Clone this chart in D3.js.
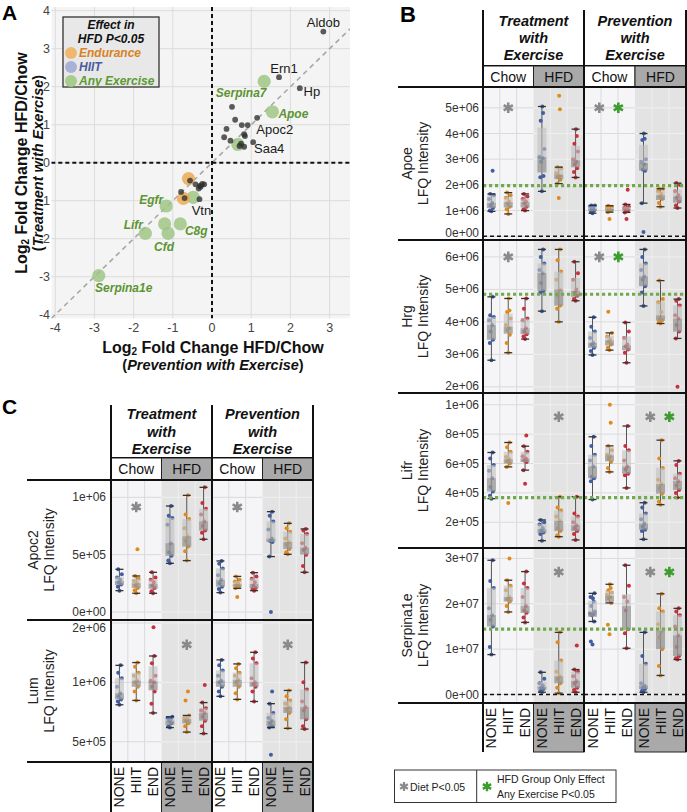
<!DOCTYPE html>
<html><head><meta charset="utf-8">
<script src="https://cdn.jsdelivr.net/npm/d3@7"></script>
<style>
body{margin:0;background:#fff}
svg{display:block;font-family:"Liberation Sans",Arial,Helvetica,sans-serif}
</style>
</head><body>
<svg id="fig" width="687" height="812"></svg>
<script>
// ================= DATA =================
const exerciseGroups = ["NONE", "HIIT", "END"];
const dietGroups = ["Chow", "HFD"];
const protocolTitles = [["Treatment", "with", "Exercise"], ["Prevention", "with", "Exercise"]];

// Panel A: log2 fold change HFD/Chow
const pointLabelA = ["Aldob","Ern1","Hp","","","","Apoc2","","","","","","","Saa4","","","",
  "","","","","","","","","","Vtn",
  "Serpina7","Apoe","","","Egfr","","C8g","Cfd","Lifr","Serpina1e",
  "",""];
const prevFC = [2.84,1.71,2.24,0.51,0.59,1.15,0.91,0.76,0.37,0.82,0.84,0.31,0.47,1.05,0.70,0.82,0.74,
  -0.56,-0.42,-0.31,-0.25,-0.20,-0.34,-0.29,-0.79,-0.70,-0.32,
  1.33,1.54,0.66,-0.48,-1.17,-1.21,-0.81,-1.12,-1.70,-2.89,
  -0.60,-0.73];
const treatFC = [3.45,2.25,1.96,1.47,1.13,1.18,0.99,0.99,0.89,0.75,0.70,0.67,0.58,0.54,0.44,0.42,0.50,
  -0.47,-0.57,-0.61,-0.56,-0.57,-0.68,-0.63,-0.77,-0.93,-0.96,
  2.14,1.34,0.48,-0.91,-1.14,-1.61,-1.61,-1.86,-1.86,-2.97,
  -0.42,-0.94];
const sigGroupA = ["none","none","none","none","none","none","none","none","none","none","none","none","none","none","none","none","none",
  "none","none","none","none","none","none","none","none","none","none",
  "any","any","any","any","any","any","any","any","any","any",
  "end","end"];
const legendA = ["Endurance", "HIIT", "Any Exercise"];
const axisTicksA = [-4, -3, -2, -1, 0, 1, 2, 3];
const axisTicksAy = [-4, -3, -2, -1, 0, 1, 2, 3, 4];

// Panel B / C: LFQ intensity per column (Chow NONE, HIIT, END, HFD NONE, HIIT, END)
const apoeUnit = 1e6;
const apoeTreatment = [
  [0.97,1.0,1.1,1.2,1.3,1.45,1.6,1.65,2.55],
  [0.87,1.05,1.15,1.3,1.35,1.5,1.6,1.7],
  [1.0,1.05,1.15,1.3,1.35,1.45,1.55,1.65],
  [1.75,2.3,2.35,2.9,3.05,3.1,3.4,4.5,4.8,5.05],
  [1.49,2.05,2.2,2.3,2.35,2.45,2.65,2.69,4.94,5.47],
  [2.29,2.5,2.65,2.8,2.9,3.0,3.3,3.6,3.9,4.17]];
const apoePrevention = [
  [0.9,0.95,1.0,1.05,1.1,1.15,1.2,1.2],
  [0.67,0.94,1.0,1.05,1.1,1.12,1.15,1.19],
  [0.67,0.93,1.0,1.02,1.05,1.1,1.15,1.24,1.81],
  [0.17,1.29,2.55,2.6,2.8,2.9,3.0,3.75,3.8,4.0],
  [1.15,1.3,1.45,1.55,1.65,1.75,1.85,1.85],
  [1.1,1.2,1.35,1.5,1.6,1.75,2.0,2.07]];
const apoeTicks = [0, 1e6, 2e6, 3e6, 4e6, 5e6];
const apoeCutoff = 1.97e6;
const apoeStars = {treatment: ["diet"], prevention: ["diet", "exercise"], diet: "Chow", level: 5e6};

const hrgUnit = 1e6;
const hrgTreatment = [
  [2.82,3.35,3.45,3.7,3.9,4.05,4.15,4.2,4.77],
  [3.05,3.35,3.6,3.75,3.8,3.9,4.1,4.3,4.35,4.72],
  [3.47,3.55,3.62,3.7,3.8,4.05,4.1,4.4,4.72],
  [4.33,4.9,4.95,5.2,5.5,5.6,5.8,6.0,6.23],
  [4.0,4.4,4.5,4.8,5.0,5.3,5.55,5.9,6.23],
  [4.65,4.7,4.8,4.9,5.0,5.3,5.5,5.85]];
const hrgPrevention = [
  [2.98,3.1,3.2,3.3,3.35,3.5,3.7,3.85,4.14],
  [3.13,3.2,3.3,3.4,3.45,3.55,3.66,4.31],
  [2.74,3.05,3.15,3.25,3.3,3.5,3.7,3.98],
  [4.49,4.9,5.1,5.3,5.4,5.6,5.8,6.0,6.23],
  [3.95,4.0,4.05,4.1,4.3,4.6,4.7,5.27],
  [2.0,3.49,3.7,3.9,4.1,4.2,4.5,4.65,4.7]];
const hrgTicks = [2e6, 3e6, 4e6, 5e6, 6e6];
const hrgCutoff = 4.85e6;
const hrgStars = {treatment: ["diet"], prevention: ["diet", "exercise"], diet: "Chow", level: 6e6};

const lifrUnit = 1e5;
const lifrTreatment = [
  [3.61,3.8,4.1,4.4,5.0,5.5,5.9,6.35,6.75],
  [3.32,5.77,6.0,6.15,6.3,6.45,6.8,7.1,7.43],
  [4.63,5.55,6.1,6.2,6.35,6.5,6.8,7.18,7.9],
  [0.75,1.2,1.3,1.45,1.6,1.85,2.0,2.16],
  [1.02,1.1,1.4,1.6,2.1,2.4,2.8,3.0,3.74],
  [0.8,1.2,1.4,1.6,1.8,2.0,2.4,2.6,3.74]];
const lifrPrevention = [
  [3.55,4.8,5.0,5.1,5.8,6.2,6.6,7.2,7.82],
  [5.43,5.7,6.1,6.3,6.5,6.6,6.9,7.2,8.77,10.0],
  [4.34,5.2,5.3,5.6,5.8,6.2,6.9,7.2,8.55],
  [0.84,1.4,1.5,1.7,1.9,2.2,2.6,3.0,3.33],
  [3.2,3.4,3.95,4.3,4.6,4.9,5.7,6.35,7.59],
  [3.68,4.0,4.2,4.5,4.8,5.0,5.3,5.9,6.18]];
const lifrTicks = [2e5, 4e5, 6e5, 8e5, 1e6];
const lifrCutoff = 3.68e5;
const lifrStars = {treatment: ["diet"], prevention: ["diet", "exercise"], diet: "HFD", level: 9.18e5};

const serpina1eUnit = 1e6;
const serpina1eTreatment = [
  [8.8,10.5,15.0,16.5,17.5,19.0,23.5,25.0,29.6],
  [18.2,19.5,20.5,21.0,21.5,23.0,24.0,25.2,30.0],
  [15.9,17.0,18.0,18.5,19.5,21.5,23.5,24.5,27.1],
  [0.5,0.8,1.2,1.5,2.0,2.5,3.5,4.9],
  [0.3,1.5,2.5,3.5,4.0,5.0,7.5,11.5,13.7],
  [0.5,1.0,1.5,2.5,3.0,4.0,5.0,5.5,10.8]];
const serpina1ePrevention = [
  [11.0,11.7,16.1,17.5,17.7,17.9,18.3,19.5,20.5,21.2,21.5,22.3],
  [13.3,15.4,20.2,21.2,21.5,22.0,22.5,23.0,23.5,24.3],
  [10.2,13.5,14.4,18.5,20.5,21.5,24.0,28.5],
  [0.5,0.8,1.2,1.5,2.0,2.5,6.8,8.5,13.7],
  [4.2,6.3,10.0,12.5,14.0,15.5,18.3,19.0,22.2],
  [7.7,8.0,8.5,10.5,13.0,15.0,17.5,18.3,19.0]];
const serpina1eTicks = [0, 1e7, 2e7, 3e7];
const serpina1eCutoff = 14.4e6;
const serpina1eStars = {treatment: ["diet"], prevention: ["diet", "exercise"], diet: "HFD", level: 2.7e7};

const apoc2Unit = 1e5;
const apoc2Treatment = [
  [1.86,2.2,2.4,2.6,2.8,3.0,3.3,3.72],
  [1.63,1.9,2.1,2.3,2.5,2.7,2.9,3.14,5.47],
  [1.63,1.8,2.1,2.3,2.6,2.8,3.0,3.46],
  [4.24,4.5,4.9,5.2,6.0,7.6,8.2,8.4,9.24],
  [4.48,5.3,5.7,6.2,6.6,7.3,8.1,8.5,10.17],
  [6.34,6.9,7.1,7.5,7.9,8.5,9.0,9.5,10.87]];
const apoc2Prevention = [
  [1.69,2.0,2.2,2.5,2.8,3.2,3.8,4.2,4.45],
  [1.3,2.06,2.2,2.35,2.5,2.65,2.8,3.1],
  [1.86,2.0,2.1,2.3,2.6,2.9,3.1,3.43],
  [0.0,4.83,6.1,6.2,6.4,7.2,7.9,8.4,8.75],
  [5.03,5.2,5.5,5.9,6.1,6.4,7.0,7.3,7.73],
  [3.46,4.0,5.0,5.4,5.6,6.0,6.8,7.1,7.24]];
const apoc2Ticks = [0, 5e5, 1e6];
const apoc2Stars = {treatment: ["diet"], prevention: ["diet"], diet: "Chow", level: 9.15e5};

const lumUnit = 1e6;
const lumTreatment = [
  [0.77,0.8,0.82,0.85,0.88,0.95,1.05,1.12,1.22],
  [0.81,0.9,0.95,1.0,1.02,1.08,1.12,1.2,1.26],
  [0.70,0.78,0.9,0.95,1.0,1.02,1.08,1.25,1.36,1.9],
  [0.59,0.6,0.62,0.64,0.65,0.66,0.67],
  [0.56,0.6,0.62,0.64,0.65,0.66,0.68,0.81,0.9],
  [0.55,0.6,0.64,0.67,0.7,0.72,0.74,0.79,0.97]];
const lumPrevention = [
  [0.85,0.9,0.95,1.0,1.02,1.08,1.15,1.22,1.30],
  [0.82,0.88,0.95,1.0,1.03,1.08,1.12,1.18,1.24],
  [0.80,0.9,0.95,0.98,1.0,1.05,1.25,1.32,1.42],
  [0.43,0.59,0.6,0.62,0.64,0.66,0.7,0.78,0.9],
  [0.585,0.65,0.7,0.73,0.75,0.78,0.81,0.85,0.91],
  [0.58,0.6,0.65,0.72,0.75,0.8,0.92,1.0,1.26]];
const lumTicks = [5e5, 1e6, 2e6];
const lumStars = {treatment: ["diet"], prevention: ["diet"], diet: "HFD", level: 1.55e6};

const legendB = ["Diet P<0.05", "HFD Group Only Effect", "Any Exercise P<0.05"];

// ================= DRAWING =================
const svg = d3.select("#fig");
const defs = svg.append("defs");
const FONT = '"Liberation Sans",Arial,Helvetica,sans-serif';
const exColors = ["#3f5ea4", "#e08a1c", "#c8303c"];
const darkGreen = "#5c9432";
let clipId = 0;
function clip(x, y, w, h) {
  const id = "clip" + (clipId++);
  defs.append("clipPath").attr("id", id).append("rect").attr("x", x).attr("y", y).attr("width", w).attr("height", h);
  return "url(#" + id + ")";
}
function star(g, cx, cy, r, color, sw) {
  const a = Math.PI / 6;
  const d = `M${cx},${cy - r}L${cx},${cy + r}` +
    `M${cx - r * Math.cos(a)},${cy - r * Math.sin(a)}L${cx + r * Math.cos(a)},${cy + r * Math.sin(a)}` +
    `M${cx - r * Math.cos(a)},${cy + r * Math.sin(a)}L${cx + r * Math.cos(a)},${cy - r * Math.sin(a)}`;
  g.append("path").attr("d", d).attr("stroke", color).attr("stroke-width", sw).attr("fill", "none");
}
const fmtE = v => v.toExponential(0).replace(/e([+-])(\d)$/, "e$10$2");

// ---------- Panel A ----------
(function panelA() {
  const xA = d3.scaleLinear().domain([-4.1, 3.52]).range([51.3, 350]);
  const yA = d3.scaleLinear().domain([-4.1, 4.1]).range([318.5, 6.9]);
  const [x0, x1] = xA.range(), [y1, y0] = yA.range();
  const g = svg.append("g");
  const gp = g.append("g").attr("clip-path", clip(x0, y0, x1 - x0, y1 - y0));
  gp.append("rect").attr("x", x0).attr("y", y0).attr("width", x1 - x0).attr("height", y1 - y0).attr("fill", "#f4f4f4");
  axisTicksA.forEach(t => gp.append("line").attr("x1", xA(t)).attr("x2", xA(t)).attr("y1", y0).attr("y2", y1).attr("stroke", "#dcdcdc").attr("stroke-width", 1));
  axisTicksAy.forEach(t => gp.append("line").attr("y1", yA(t)).attr("y2", yA(t)).attr("x1", x0).attr("x2", x1).attr("stroke", "#dcdcdc").attr("stroke-width", 1));
  gp.append("line").attr("x1", xA(-4.1)).attr("y1", yA(-4.1)).attr("x2", xA(3.52)).attr("y2", yA(3.52))
    .attr("stroke", "#a8a8a8").attr("stroke-width", 1.6).attr("stroke-dasharray", "5,4");
  gp.append("line").attr("x1", xA(0)).attr("x2", xA(0)).attr("y1", y0).attr("y2", y1).attr("stroke", "#111").attr("stroke-width", 2).attr("stroke-dasharray", "4,3");
  gp.append("line").attr("y1", yA(0)).attr("y2", yA(0)).attr("x1", x0).attr("x2", x1).attr("stroke", "#111").attr("stroke-width", 2).attr("stroke-dasharray", "4,3");
  const idx = d3.range(prevFC.length);
  const bigFill = {any: "#9dc582", end: "#eda84f"};
  idx.filter(i => sigGroupA[i] !== "none").forEach(i => {
    gp.append("circle").attr("cx", xA(prevFC[i])).attr("cy", yA(treatFC[i])).attr("r", 6.6)
      .attr("fill", bigFill[sigGroupA[i]]).attr("fill-opacity", 0.82);
  });
  idx.filter(i => sigGroupA[i] === "none").forEach(i => {
    gp.append("circle").attr("cx", xA(prevFC[i])).attr("cy", yA(treatFC[i])).attr("r", 2.9)
      .attr("fill", "#2e2e2e").attr("fill-opacity", 0.78);
  });
  const off = {Aldob:[0,-9], Ern1:[5,-9], Hp:[12,3], Serpina7:[-23,12], Apoe:[21,2], Apoc2:[27,4], Saa4:[16,6],
    Vtn:[2,11], Egfr:[-15,-6], Lifr:[-12,-8], C8g:[16,7], Cfd:[-4,14], Serpina1e:[25,12]};
  idx.filter(i => pointLabelA[i]).forEach(i => {
    const o = off[pointLabelA[i]] || [0, -8];
    const sig = sigGroupA[i] !== "none";
    g.append("text").attr("x", xA(prevFC[i]) + o[0]).attr("y", yA(treatFC[i]) + o[1])
      .attr("text-anchor", "middle").attr("dominant-baseline", "central")
      .attr("font-size", sig ? 12 : 13).attr("font-weight", sig ? "bold" : "normal").attr("font-style", sig ? "italic" : "normal")
      .attr("fill", sig ? darkGreen : "#1a1a1a").text(pointLabelA[i]);
  });
  axisTicksA.forEach(t => g.append("text").attr("x", xA(t)).attr("y", 327.5).attr("text-anchor", "middle").attr("dominant-baseline", "central")
    .attr("font-size", 12.5).attr("fill", "#444").text(t));
  axisTicksAy.forEach(t => g.append("text").attr("x", 50).attr("y", yA(t)).attr("text-anchor", "end").attr("dominant-baseline", "central")
    .attr("font-size", 12.5).attr("fill", "#444").text(t));
  // axis titles
  const xt = g.append("text").attr("x", 213).attr("y", 347).attr("text-anchor", "middle").attr("dominant-baseline", "central")
    .attr("font-size", 16).attr("font-weight", "bold").attr("fill", "#111");
  xt.append("tspan").text("Log");
  xt.append("tspan").attr("font-size", 10).attr("dy", 4).text("2");
  xt.append("tspan").attr("dy", -4).text(" Fold Change HFD/Chow");
  const xt2 = g.append("text").attr("x", 213).attr("y", 365).attr("text-anchor", "middle").attr("dominant-baseline", "central")
    .attr("font-size", 14.5).attr("font-weight", "bold").attr("fill", "#111");
  xt2.append("tspan").text("(");
  xt2.append("tspan").attr("font-style", "italic").text("Prevention with Exercise");
  xt2.append("tspan").text(")");
  const yt = g.append("text").attr("transform", "translate(21,163) rotate(-90)").attr("text-anchor", "middle").attr("dominant-baseline", "central")
    .attr("font-size", 16).attr("font-weight", "bold").attr("fill", "#111");
  yt.append("tspan").text("Log");
  yt.append("tspan").attr("font-size", 10).attr("dy", 4).text("2");
  yt.append("tspan").attr("dy", -4).text(" Fold Change HFD/Chow");
  const yt2 = g.append("text").attr("transform", "translate(38,163) rotate(-90)").attr("text-anchor", "middle").attr("dominant-baseline", "central")
    .attr("font-size", 14.5).attr("font-weight", "bold").attr("fill", "#111");
  yt2.append("tspan").text("(");
  yt2.append("tspan").attr("font-style", "italic").text("Treatment with Exercise");
  yt2.append("tspan").text(")");
  // legend
  const lg = g.append("g");
  lg.append("rect").attr("x", 63).attr("y", 17).attr("width", 96).attr("height", 70).attr("fill", "#e8e8e8").attr("stroke", "#333").attr("stroke-width", 1.3);
  ["Effect in", "HFD P<0.05"].forEach((t, j) => lg.append("text").attr("x", 111).attr("y", 25 + j * 14).attr("text-anchor", "middle")
    .attr("dominant-baseline", "central").attr("font-size", 12).attr("font-weight", "bold").attr("font-style", "italic").attr("fill", "#111").text(t));
  const lgFill = ["#f0b86e", "#a8b2d6", "#a8cc8c"], lgText = ["#d9821f", "#4b5b9c", "#5c9a32"];
  legendA.forEach((t, j) => {
    const cy = 53 + j * 14;
    lg.append("circle").attr("cx", 71).attr("cy", cy).attr("r", 6).attr("fill", lgFill[j]);
    lg.append("text").attr("x", 79).attr("y", cy).attr("dominant-baseline", "central").attr("font-size", 12)
      .attr("font-weight", "bold").attr("font-style", "italic").attr("fill", lgText[j]).text(t);
  });
  svg.append("text").attr("x", 2).attr("y", 20).attr("font-size", 21).attr("font-weight", "bold").text("A");
})();

// ---------- Facet grid panels (B, C) ----------
function boxStats(vals, log) {
  const tf = log ? Math.log10 : (v => v), inv = log ? (v => Math.pow(10, v)) : (v => v);
  const s = vals.map(tf).sort(d3.ascending);
  const q1 = d3.quantile(s, 0.25), med = d3.quantile(s, 0.5), q3 = d3.quantile(s, 0.75);
  const iqr = q3 - q1;
  const inside = s.filter(v => v >= q1 - 1.5 * iqr && v <= q3 + 1.5 * iqr);
  return {q1: inv(q1), med: inv(med), q3: inv(q3), lo: inv(d3.min(inside)), hi: inv(d3.max(inside))};
}
const jit = [0, -2, 2, -1, 1, -3, 3, -1.5, 1.5, 0.5, -2.5, 2.5];

function drawGridPanel(L, rows) {
  const bands = [0, 1].map(k => d3.scaleBand().domain(d3.range(6)).range([L.fx[k], L.fx[k + 1]]));
  rows.forEach((row, r) => {
    const top = L.rowY[r], bot = L.rowY[r + 1];
    const y = (row.log ? d3.scaleLog() : d3.scaleLinear()).domain(row.domain).range([bot, top]);
    bands.forEach((xb, k) => {
      const bw = xb.bandwidth(), fx0 = L.fx[k], fx1 = L.fx[k + 1], fmid = fx0 + 3 * bw;
      const g = svg.append("g").attr("clip-path", clip(fx0, top, fx1 - fx0, bot - top));
      g.append("rect").attr("x", fx0).attr("y", top).attr("width", fmid - fx0).attr("height", bot - top).attr("fill", "#f5f5f8");
      g.append("rect").attr("x", fmid).attr("y", top).attr("width", fx1 - fmid).attr("height", bot - top).attr("fill", "#e3e3e3");
      row.ticks.forEach(t => {
        g.append("line").attr("x1", fx0).attr("x2", fmid).attr("y1", y(t)).attr("y2", y(t)).attr("stroke", "#dadada").attr("stroke-width", 1);
        g.append("line").attr("x1", fmid).attr("x2", fx1).attr("y1", y(t)).attr("y2", y(t)).attr("stroke", "#efefef").attr("stroke-width", 1);
      });
      [1, 2, 4, 5].forEach(i => g.append("line").attr("x1", xb(i)).attr("x2", xb(i)).attr("y1", top).attr("y2", bot)
        .attr("stroke", i < 3 ? "#dadada" : "#efefef").attr("stroke-width", 1));
      if (row.zeroLine) g.append("line").attr("x1", fx0).attr("x2", fx1).attr("y1", y(0)).attr("y2", y(0))
        .attr("stroke", "#111").attr("stroke-width", 1.6).attr("stroke-dasharray", "4,3");
      row.data[k].forEach((vals0, i) => {
        const vals = vals0.map(v => v * row.unit);
        const st = boxStats(vals, row.log);
        const cx = xb(i) + bw / 2, col = exColors[i % 3];
        const yy = v => y(row.log ? Math.max(v, row.domain[0]) : v);
        g.append("line").attr("x1", cx).attr("x2", cx).attr("y1", yy(st.lo)).attr("y2", yy(st.hi)).attr("stroke", "#555").attr("stroke-width", 1);
        vals.forEach((v, j) => g.append("circle").attr("cx", cx + jit[j % jit.length] * 0.8).attr("cy", yy(v)).attr("r", 2).attr("fill", col));
        g.append("rect").attr("x", cx - 4.5).attr("width", 9).attr("y", yy(st.q3)).attr("height", Math.max(0.5, yy(st.q1) - yy(st.q3)))
          .attr("fill", "#c2c2c2").attr("fill-opacity", 0.62);
        g.append("rect").attr("x", cx - 4.5).attr("width", 9).attr("y", yy(st.med)).attr("height", Math.max(0.5, yy(st.q1) - yy(st.med)))
          .attr("fill", "#6f6f6f").attr("fill-opacity", 0.4);
        [st.lo, st.hi].forEach(v => g.append("line").attr("x1", cx - 4).attr("x2", cx + 4).attr("y1", yy(v)).attr("y2", yy(v))
          .attr("stroke", "#333").attr("stroke-width", 1.3));
      });
      if (row.cutoff != null) g.append("line").attr("x1", fx0).attr("x2", fx1).attr("y1", y(row.cutoff)).attr("y2", y(row.cutoff))
        .attr("stroke", "#72a84e").attr("stroke-width", 3.2).attr("stroke-dasharray", "3.2,2.8");
      // stars
      const kinds = k === 0 ? row.stars.treatment : row.stars.prevention;
      const dIdx = dietGroups.indexOf(row.stars.diet);
      kinds.forEach(kind => {
        const pos = kinds.length > 1 ? (kind === "diet" ? 0.4 : 1.52) : 1;
        const cx = fx0 + (3 * dIdx + pos + 0.5) * bw;
        star(svg, cx, y(row.stars.level), 5.3, kind === "diet" ? "#8a8a8a" : "#3e9b2f", 2.6);
      });
    });
    // tick labels
    row.ticks.forEach(t => {
      const ty = Math.max(top + 8, Math.min(bot - 7, y(t)));
      svg.append("text").attr("x", L.tickX).attr("y", ty).attr("text-anchor", "end").attr("dominant-baseline", "central")
        .attr("font-size", 12).attr("fill", "#333").text(fmtE(t));
    });
    const mid = (top + bot) / 2;
    svg.append("text").attr("transform", `translate(${L.t1X},${mid}) rotate(-90)`).attr("text-anchor", "middle").attr("dominant-baseline", "central")
      .attr("font-size", 14).attr("fill", "#222").text(row.name);
    svg.append("text").attr("transform", `translate(${L.t2X},${mid}) rotate(-90)`).attr("text-anchor", "middle").attr("dominant-baseline", "central")
      .attr("font-size", 14).attr("fill", "#222").text("LFQ Intensity");
  });
  // header and bottom labels
  bands.forEach((xb, k) => {
    const bw = xb.bandwidth(), cxF = (L.fx[k] + L.fx[k + 1]) / 2;
    protocolTitles[k].forEach((t, j) => svg.append("text").attr("x", cxF).attr("y", L.titleY[j]).attr("text-anchor", "middle")
      .attr("dominant-baseline", "central").attr("font-size", 14.5).attr("font-weight", "bold").attr("font-style", "italic").attr("fill", "#111").text(t));
    dietGroups.forEach((d, di) => {
      const x0 = L.fx[k] + di * 3 * bw;
      svg.append("rect").attr("x", x0).attr("y", L.strip[0]).attr("width", 3 * bw).attr("height", L.strip[1] - L.strip[0])
        .attr("fill", di ? "#a9a9a9" : "#fff").attr("stroke", "#222").attr("stroke-width", 1);
      svg.append("text").attr("x", x0 + 1.5 * bw).attr("y", (L.strip[0] + L.strip[1]) / 2 + 0.5).attr("text-anchor", "middle")
        .attr("dominant-baseline", "central").attr("font-size", 14).attr("fill", "#111").text(d);
      if (di) svg.append("rect").attr("x", x0).attr("y", L.labelY[0]).attr("width", 3 * bw).attr("height", L.labelY[1] - L.labelY[0])
        .attr("fill", "#a9a9a9").attr("stroke", "#222").attr("stroke-width", 1);
    });
    d3.range(6).forEach(i => {
      const cx = xb(i) + bw / 2;
      svg.append("text").attr("transform", `translate(${cx},${L.labelY[0] + 5}) rotate(-90)`).attr("text-anchor", "end")
        .attr("dominant-baseline", "central").attr("font-size", 14).attr("fill", "#111").text(exerciseGroups[i % 3]);
    });
  });
  // frame lines
  const ln = (x1, y1, x2, y2, w) => svg.append("line").attr("x1", x1).attr("y1", y1).attr("x2", x2).attr("y2", y2).attr("stroke", "#111").attr("stroke-width", w);
  ln(L.fx[0], L.titleRuleY, L.fx[2], L.titleRuleY, 1.2);
  L.rowY.forEach(yv => ln(L.leftX, yv, L.fx[2], yv, 2));
  L.fx.forEach(xv => ln(xv, L.vTop, xv, L.vBottom, 2));
}

const layoutB = {fx: [483, 584, 686], leftX: 398, tickX: 479, t1X: 407, t2X: 423, titleY: [21, 38, 55], titleRuleY: 65.5,
  strip: [66, 86.5], rowY: [87, 240, 393, 548, 703], labelY: [703, 752], vTop: 10, vBottom: 752};
const layoutC = {fx: [111, 212, 313], leftX: 27, tickX: 106, t1X: 33, t2X: 49, titleY: [414, 432, 449], titleRuleY: 457.5,
  strip: [458, 479.5], rowY: [480, 620, 762], labelY: [762, 830], vTop: 405, vBottom: 812};

drawGridPanel(layoutB, [
  {name: "Apoe", unit: apoeUnit, data: [apoeTreatment, apoePrevention], domain: [-0.144e6, 5.81e6], ticks: apoeTicks, cutoff: apoeCutoff, zeroLine: true, stars: apoeStars},
  {name: "Hrg", unit: hrgUnit, data: [hrgTreatment, hrgPrevention], domain: [1.81e6, 6.52e6], ticks: hrgTicks, cutoff: hrgCutoff, stars: hrgStars},
  {name: "Lifr", unit: lifrUnit, data: [lifrTreatment, lifrPrevention], domain: [0.025e6, 1.08e6], ticks: lifrTicks, cutoff: lifrCutoff, stars: lifrStars},
  {name: "Serpina1e", unit: serpina1eUnit, data: [serpina1eTreatment, serpina1ePrevention], domain: [-1.87e6, 32.3e6], ticks: serpina1eTicks, cutoff: serpina1eCutoff, zeroLine: true, stars: serpina1eStars}
]);
drawGridPanel(layoutC, [
  {name: "Apoc2", unit: apoc2Unit, data: [apoc2Treatment, apoc2Prevention], domain: [-0.07e6, 1.151e6], ticks: apoc2Ticks, stars: apoc2Stars},
  {name: "Lum", unit: lumUnit, log: true, data: [lumTreatment, lumPrevention], domain: [0.395e6, 2.07e6], ticks: lumTicks, stars: lumStars}
]);

svg.append("text").attr("x", 400).attr("y", 22).attr("font-size", 22).attr("font-weight", "bold").text("B");
svg.append("text").attr("x", 2).attr("y", 414).attr("font-size", 21).attr("font-weight", "bold").text("C");

// legend B
(function legendPanelB() {
  const g = svg.append("g");
  g.append("rect").attr("x", 394.5).attr("y", 770).attr("width", 221.5).attr("height", 32.5).attr("fill", "#fff").attr("stroke", "#333").attr("stroke-width", 1);
  g.append("line").attr("x1", 476.7).attr("x2", 476.7).attr("y1", 770).attr("y2", 802.5).attr("stroke", "#333").attr("stroke-width", 1);
  star(g, 404, 786.5, 4.5, "#8a8a8a", 2.2);
  g.append("text").attr("x", 410).attr("y", 786.5).attr("dominant-baseline", "central").attr("font-size", 10.5).attr("fill", "#222").text(legendB[0]);
  star(g, 487, 786.5, 4.8, "#3e9b2f", 2.4);
  g.append("text").attr("x", 497).attr("y", 778.5).attr("dominant-baseline", "central").attr("font-size", 10.5).attr("fill", "#222").text(legendB[1]);
  g.append("text").attr("x", 497).attr("y", 793.5).attr("dominant-baseline", "central").attr("font-size", 10.5).attr("fill", "#222").text(legendB[2]);
})();
</script>
</body></html>
